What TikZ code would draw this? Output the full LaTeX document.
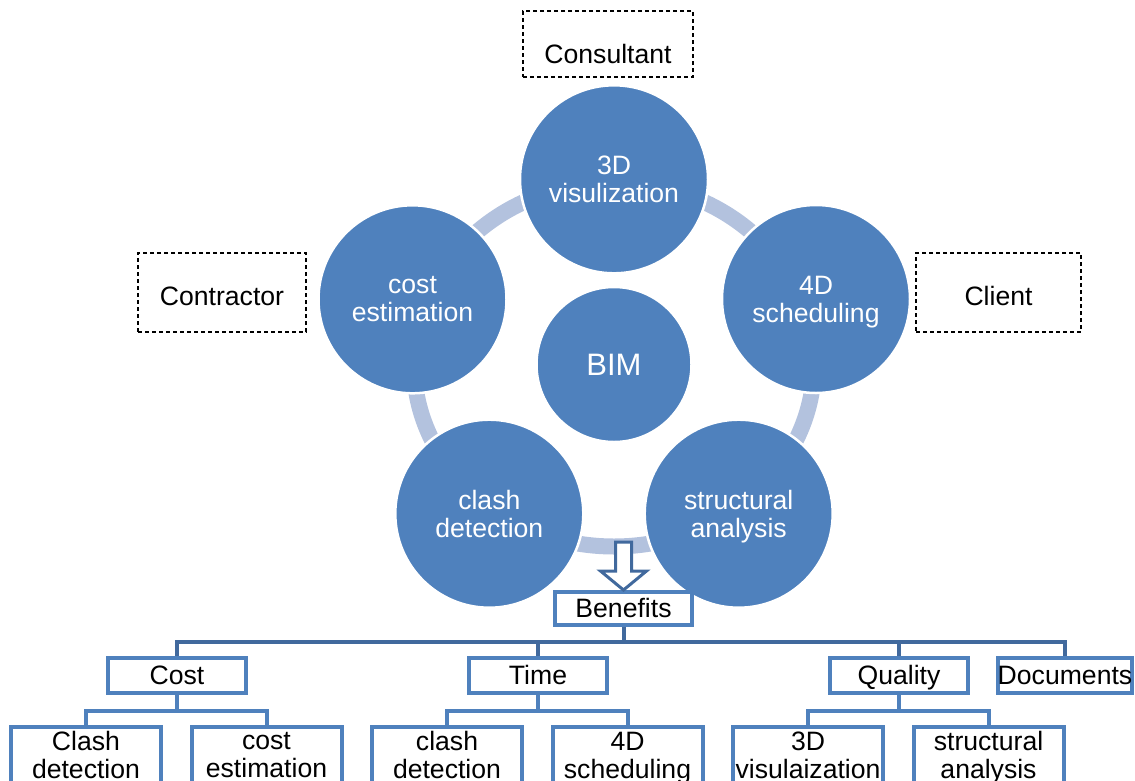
\documentclass[tikz,border=0pt]{standalone}
\usepackage{fontspec}
\setmainfont{Liberation Sans}

\definecolor{bimblue}{HTML}{4F81BD}
\definecolor{ringblue}{HTML}{B3C2DE}
\definecolor{treeblue}{HTML}{41699D}

\begin{document}
\begin{tikzpicture}[
			x = 1pt, y = -1pt,
			every node/.style = {font = \fontsize{26.6}{28}\selectfont},
			phase/.style = {circle, fill = bimblue, draw = white, line width = 2.5, minimum size = 188, inner sep = 0, align = center, text = white, text depth = 0pt},
			role/.style = {draw, line width = 1.1, dash pattern = on 4 off 3},
			benefit/.style = {draw = bimblue, line width = 4, fill = white, inner sep = 0, align = center},
			oneline/.style = {text height = 19.5, text depth = 2},
			trunk/.style = {draw = treeblue, line width = 4},
			twig/.style = {draw = bimblue, line width = 4},
			hollow/.style = {draw = treeblue, line width = 3, fill = white, line join = miter}
		]

		\useasboundingbox (0,0) rectangle (1135,780);
		\clip (0,0) rectangle (1135,780);

		\coordinate (hub) at (614,364.5);

		% ring behind the circles
		\draw[ringblue, line width = 16] (hub) ellipse [x radius = 200, y radius = 182];

		\node[phase, minimum size = 155, font = \fontsize{31}{33}\selectfont] (bim) at (hub) {BIM};
		\node[phase] (vis) at (614,179.3) {3D\\visulization};
		\node[phase] (sched) at (816,299) {4D\\scheduling};
		\node[phase] (struct) at (738.7,513.7) {structural\\analysis};
		\node[phase] (clash) at (489.3,513.7) {clash\\detection};
		\node[phase] (estim) at (412.5,299.3) {cost\\estimation};

		\node[role, minimum width = 170, minimum height = 66, text height = 39] (consultant) at (608,44) {Consultant};
		\node[role, minimum width = 168, minimum height = 79, text height = 26] (contractor) at (222,292.5) {Contractor};
		\node[role, minimum width = 165, minimum height = 79, text height = 26] (client) at (998.5,292.5) {Client};

		\node[benefit, oneline, minimum width = 137, minimum height = 33] (benefits) at (623.5,608.5) {Benefits};
		\draw[hollow] (benefits.north) -- ++(-23,-19) -- ++(15,0) -- ++(0,-29) -- ++(16,0) -- ++(0,29) -- ++(15,0) -- cycle;

		% first level
		\foreach \name/\x/\txt in {cost/177/Cost, time/538/Time, quality/899/Quality}{
			\node[benefit, oneline, minimum width = 138, minimum height = 35] (\name) at (\x,675.5) {\txt};
		}
		\node[benefit, oneline, minimum width = 132, minimum height = 35] (docs) at (1065,675.5) {Documents};

		\foreach \p in {cost, time, quality, docs}{
			\draw[trunk] (benefits.south) -- ++(0,15) -| (\p.north);
		}

		% second level
		\foreach \name/\x/\txt in {cd/86/{Clash\\detection}, ce/266.5/{cost\\estimation}, cl/447/{clash\\detection}, fs/627.5/{4D\\scheduling}, tv/808/{3D\\visulaization}, sa/988.5/{structural\\analysis}}{
			\node[benefit, text depth = 0pt, anchor = north, minimum width = 150, minimum height = 56] (\name) at (\x,725) {\txt};
		}

		\foreach \p/\a/\b in {cost/cd/ce, time/cl/fs, quality/tv/sa}{
			\draw[twig] (\p.south) -- ++(0,16) -| (\a.north);
			\draw[twig] (\p.south) -- ++(0,16) -| (\b.north);
		}

		\end{tikzpicture}
\end{document}
